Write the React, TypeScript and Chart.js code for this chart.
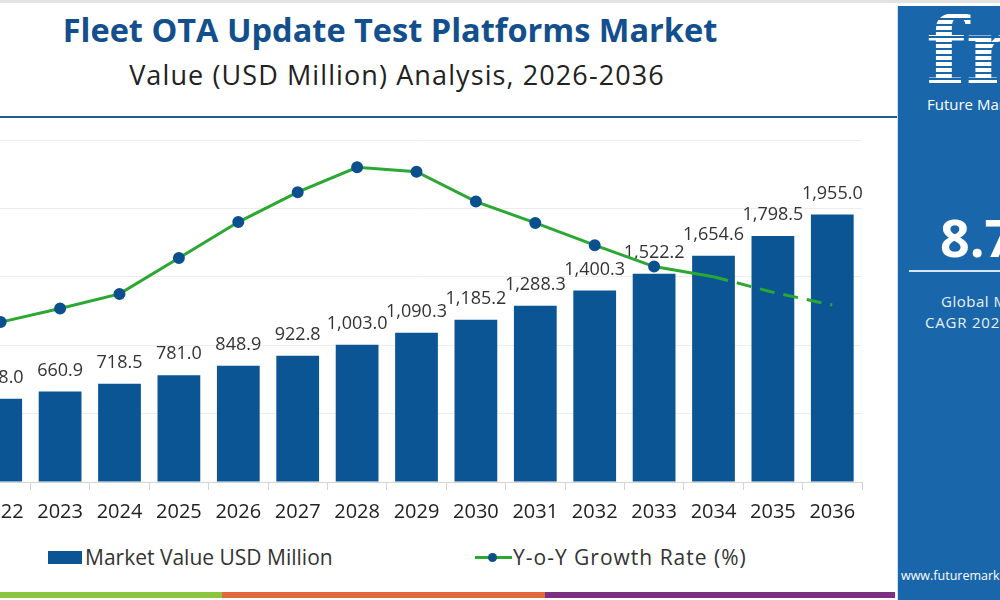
import React, { useEffect, useRef } from 'react';
import { Chart, registerables, Plugin } from 'chart.js';

Chart.register(...registerables);

const years = ['2022', '2023', '2024', '2025', '2026', '2027', '2028', '2029', '2030', '2031', '2032', '2033', '2034', '2035', '2036'];
const marketValue = [608.0, 660.9, 718.5, 781.0, 848.9, 922.8, 1003.0, 1090.3, 1185.2, 1288.3, 1400.3, 1522.2, 1654.6, 1798.5, 1955.0];
const growthRate = [7.87, 8.03, 8.2, 8.62, 9.04, 9.39, 9.68, 9.63, 9.28, 9.03, 8.77, 8.52, 8.4, 8.22, 8.07];

const FONT = '"Open Sans", "DejaVu Sans", sans-serif';
const BAR_BLUE = '#0b5594';
const LINE_GREEN = '#2aa832';
const DOT_BLUE = '#0b4f8e';

// value labels over the bars, drawn before the line so the line sits on top
const barLabels: Plugin<'bar'> = {
  id: 'barLabels',
  afterDatasetDraw(chart, args) {
    if (args.index !== 0) return;
    const { ctx } = chart;
    ctx.save();
    ctx.font = `18px ${FONT}`;
    ctx.fillStyle = '#333';
    ctx.textAlign = 'center';
    ctx.textBaseline = 'middle';
    args.meta.data.forEach((bar, i) => {
      const v = marketValue[i];
      const txt = v.toLocaleString('en-US', { minimumFractionDigits: 1, maximumFractionDigits: 1 });
      ctx.fillText(txt, bar.x, bar.y - 21);
    });
    ctx.restore();
  },
};

const MarketChart: React.FC = () => {
  const canvasRef = useRef<HTMLCanvasElement>(null);
  const chartRef = useRef<Chart | null>(null);

  useEffect(() => {
    if (!canvasRef.current) return;
    chartRef.current = new Chart(canvasRef.current, {
      type: 'bar',
      data: {
        labels: years,
        datasets: [
          {
            type: 'bar',
            label: 'Market Value USD Million',
            data: marketValue,
            backgroundColor: BAR_BLUE,
            barPercentage: 0.8,
            categoryPercentage: 0.9,
            yAxisID: 'y',
            order: 1,
          },
          {
            type: 'line',
            label: 'Y-o-Y Growth Rate (%)',
            data: growthRate,
            borderColor: LINE_GREEN,
            borderWidth: 3,
            pointBackgroundColor: DOT_BLUE,
            pointBorderColor: DOT_BLUE,
            pointRadius: growthRate.map((_, i) => (i < 12 ? 4.5 : 0)),
            tension: 0,
            yAxisID: 'y1',
            order: 0,
            segment: {
              borderDash: (c: any) => (c.p0DataIndex >= 12 ? [15, 9] : undefined),
            },
          } as any,
        ],
      },
      options: {
        animation: false,
        responsive: true,
        maintainAspectRatio: false,
        layout: { padding: { left: 31, right: 38, top: 20, bottom: 0 } },
        plugins: {
          legend: { display: false },
          title: { display: false },
          tooltip: { enabled: false },
        },
        scales: {
          x: {
            grid: { drawOnChartArea: false, drawTicks: true, tickLength: 8, color: '#d4d4d4', offset: true },
            border: { color: '#d4d4d4' },
            ticks: { color: '#222', font: { family: FONT, size: 20 }, padding: 10 },
            afterFit: (s: any) => { s.height = 50; },
          },
          y: {
            min: 0,
            max: 2500,
            ticks: { display: false, stepSize: 500 },
            grid: { color: '#ededed', drawTicks: false },
            border: { display: false },
            afterFit: (s: any) => { s.width = 0; },
          },
          y1: {
            display: false,
            min: 6,
            max: 10,
          },
        },
      },
      plugins: [barLabels as any],
    });
    return () => {
      chartRef.current?.destroy();
      chartRef.current = null;
    };
  }, []);

  return (
    <div style={{ position: 'absolute', left: -60, top: 120, width: 960, height: 412 }}>
      <canvas ref={canvasRef} />
    </div>
  );
};

const App: React.FC = () => {
  useEffect(() => {
    document.body.style.margin = '0';
  }, []);

  return (
    <div style={{ position: 'fixed', left: 0, top: 0, width: 1000, height: 600, overflow: 'hidden', background: '#fff', fontFamily: FONT }}>
      <div style={{ position: 'absolute', left: 0, top: 0, width: 1000, height: 3, background: '#e2e2e2' }} />
      <div style={{ position: 'absolute', left: 0, top: 7, width: 780, textAlign: 'center', fontSize: 32.5, fontWeight: 700, color: '#124f8c', lineHeight: '46px', whiteSpace: 'nowrap' }}>
        Fleet OTA Update Test Platforms Market
      </div>
      <div style={{ position: 'absolute', left: 0, top: 56, width: 794, textAlign: 'center', fontSize: 27, letterSpacing: 1.1, color: '#222', lineHeight: '38px', whiteSpace: 'nowrap' }}>
        Value (USD Million) Analysis, 2026-2036
      </div>
      <div style={{ position: 'absolute', left: 0, top: 116, width: 897, height: 2, background: '#1d5b94' }} />

      <MarketChart />

      <div style={{ position: 'absolute', left: 48, top: 551, width: 34, height: 13, background: BAR_BLUE }} />
      <div style={{ position: 'absolute', left: 85, top: 543, fontSize: 21, color: '#333', lineHeight: '28px', whiteSpace: 'nowrap' }}>Market Value USD Million</div>
      <div style={{ position: 'absolute', left: 475, top: 556, width: 37, height: 3, background: LINE_GREEN }} />
      <div style={{ position: 'absolute', left: 488, top: 553, width: 9, height: 9, borderRadius: '50%', background: DOT_BLUE }} />
      <div style={{ position: 'absolute', left: 513, top: 543, fontSize: 21, letterSpacing: 1, color: '#333', lineHeight: '28px', whiteSpace: 'nowrap' }}>Y-o-Y Growth Rate (%)</div>

      <div style={{ position: 'absolute', left: 0, top: 592, width: 222, height: 6, background: '#8cc63f' }} />
      <div style={{ position: 'absolute', left: 222, top: 592, width: 323, height: 6, background: '#e2673a' }} />
      <div style={{ position: 'absolute', left: 545, top: 592, width: 350, height: 6, background: '#7d2f82' }} />

      <div style={{ position: 'absolute', left: 897, top: 6, width: 200, height: 600, background: '#1a66aa', borderLeft: '1px solid #cfe0ef', overflow: 'hidden', color: '#fff', whiteSpace: 'nowrap' }}>
        <div style={{ position: 'absolute', left: 28, top: -10, fontSize: 92, fontWeight: 700, fontFamily: '"DejaVu Serif", serif', lineHeight: '110px', background: 'repeating-linear-gradient(#fff 0px, #fff 4px, #1a66aa 4px, #1a66aa 6px)', WebkitBackgroundClip: 'text', backgroundClip: 'text', color: 'transparent' }}>fmi</div>
        <div style={{ position: 'absolute', left: 29, top: 88, fontSize: 15, lineHeight: '20px' }}>Future Market Insights</div>
        <div style={{ position: 'absolute', left: 42, top: 198, fontSize: 52, fontWeight: 700, lineHeight: '66px' }}>8.7%</div>
        <div style={{ position: 'absolute', left: 11, top: 264, width: 180, height: 2, background: '#d6e6f4' }} />
        <div style={{ position: 'absolute', left: 43, top: 285, fontSize: 15, letterSpacing: 0.5, lineHeight: '20px', color: '#e8f0f8' }}>Global Market</div>
        <div style={{ position: 'absolute', left: 27, top: 306, fontSize: 15, letterSpacing: 0.8, lineHeight: '20px', color: '#e8f0f8' }}>CAGR 2026-2036</div>
        <div style={{ position: 'absolute', left: 3, top: 561, fontSize: 12.5, lineHeight: '18px' }}>www.futuremarketinsights.com</div>
      </div>
    </div>
  );
};

export default App;
